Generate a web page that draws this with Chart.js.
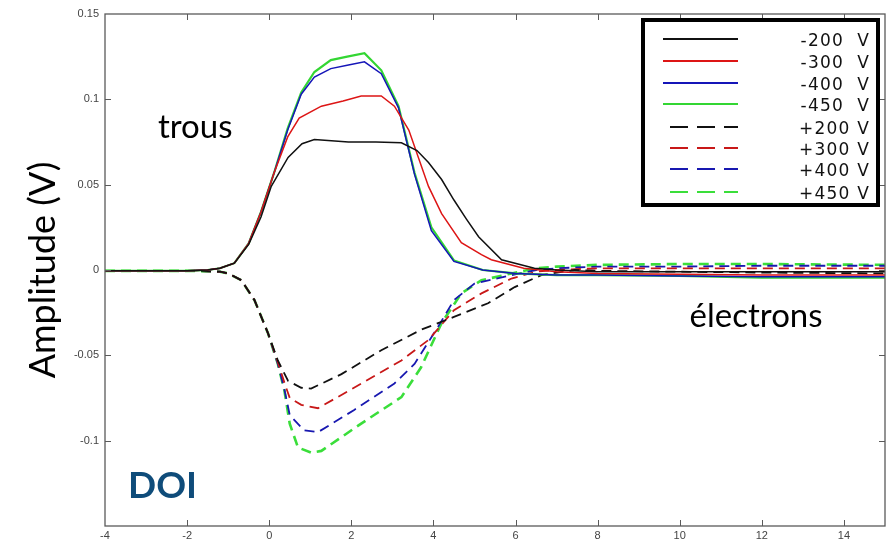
<!DOCTYPE html>
<html>
<head>
<meta charset="utf-8">
<script src="https://cdn.jsdelivr.net/npm/chart.js@4.4.1/dist/chart.umd.min.js"></script>
<style>
  html, body { margin: 0; padding: 0; background: #fff; }
  #wrap { width: 892px; height: 541px; }
</style>
</head>
<body>
<div id="wrap"><canvas id="amp"></canvas></div>
<script>
// --- data (x in µs-ish units, y in V) ---
const xTicks = [-4, -2, 0, 2, 4, 6, 8, 10, 12, 14];
const yTicks = [0.15, 0.1, 0.05, 0, -0.05, -0.1];

const seriesLabels = ['-200  V', '-300  V', '-400  V', '-450  V', '+200 V', '+300 V', '+400 V', '+450 V'];
const seriesColors = ['#111111', '#dd1515', '#1515b8', '#33d633', '#111111', '#c81818', '#1818b0', '#3ade3a'];

// solid curves (holes)
const xNeg200 = [-4, -2, -1.5, -1.2, -0.85, -0.5, -0.2, 0.05, 0.46, 0.8, 1.1, 1.93, 2.6, 3.22, 3.6, 3.88, 4.2, 4.5, 4.8, 5.1, 5.66, 6.46, 7, 8, 10, 12, 15];
const yNeg200 = [-0.0005, -0.0005, 0, 0.001, 0.004, 0.015, 0.031, 0.049, 0.066, 0.074, 0.0765, 0.075, 0.075, 0.0745, 0.070, 0.063, 0.053, 0.041, 0.030, 0.0195, 0.006, 0.001, 0, -0.001, -0.001, -0.001, -0.001];

const xNeg300 = [-4, -2, -1.5, -1.2, -0.85, -0.5, -0.2, 0.12, 0.45, 0.73, 1.27, 1.8, 2.24, 2.73, 3.05, 3.4, 3.88, 4.2, 4.68, 5.17, 5.41, 6.2, 7, 8, 10, 12, 15];
const yNeg300 = [-0.0005, -0.0005, 0, 0.001, 0.004, 0.0156, 0.034, 0.057, 0.078, 0.089, 0.096, 0.099, 0.102, 0.102, 0.096, 0.082, 0.049, 0.033, 0.016, 0.009, 0.006, 0.001, -0.001, -0.002, -0.0025, -0.003, -0.003];

const xNeg400 = [-4, -2, -1.5, -1.2, -0.85, -0.5, -0.2, 0.12, 0.45, 0.78, 1.1, 1.5, 1.9, 2.32, 2.73, 3.15, 3.54, 3.95, 4.5, 5.2, 6, 7, 8, 10, 12, 15];
const yNeg400 = [-0.0005, -0.0005, 0, 0.001, 0.004, 0.0156, 0.034, 0.057, 0.082, 0.103, 0.113, 0.118, 0.120, 0.122, 0.115, 0.095, 0.056, 0.023, 0.005, 0, -0.002, -0.003, -0.003, -0.0035, -0.004, -0.004];

const xNeg450 = [-4, -2, -1.5, -1.2, -0.85, -0.5, -0.2, 0.12, 0.45, 0.78, 1.1, 1.5, 1.9, 2.32, 2.73, 3.15, 3.54, 3.95, 4.5, 5.2, 6, 7, 8, 10, 12, 15];
const yNeg450 = [-0.0005, -0.0005, 0, 0.001, 0.004, 0.0156, 0.034, 0.057, 0.083, 0.104, 0.116, 0.123, 0.125, 0.127, 0.117, 0.096, 0.057, 0.025, 0.0056, 0, -0.002, -0.003, -0.003, -0.0035, -0.0045, -0.0045];

// dashed curves (electrons)
const xPos200 = [-4, -2, -1.2, -1.0, -0.68, -0.36, -0.03, 0.21, 0.46, 0.78, 1.02, 1.76, 2.73, 3.7, 4.5, 5.33, 5.98, 6.63, 7.44, 8, 10, 12, 15];
const yPos200 = [-0.0005, -0.0005, -0.001, -0.002, -0.006, -0.0176, -0.037, -0.053, -0.065, -0.069, -0.0695, -0.061, -0.047, -0.035, -0.0275, -0.0195, -0.010, -0.003, 0, -0.0005, -0.001, -0.0015, -0.002];

const xPos300 = [-4, -2, -1.2, -1.0, -0.68, -0.36, -0.03, 0.21, 0.37, 0.5, 0.78, 1.19, 2.24, 3.22, 3.88, 4.5, 5.17, 5.9, 6.5, 7, 8, 10, 12, 15];
const yPos300 = [-0.0005, -0.0005, -0.001, -0.002, -0.006, -0.0176, -0.037, -0.054, -0.066, -0.075, -0.079, -0.081, -0.0666, -0.053, -0.041, -0.0235, -0.0137, -0.005, -0.001, 0, 0.001, 0.001, 0.001, 0.001];

const xPos400 = [-4, -2, -1.2, -1.0, -0.68, -0.36, -0.03, 0.21, 0.37, 0.5, 0.85, 1.19, 2.07, 3.05, 3.54, 4.12, 4.5, 5.0, 5.9, 6.5, 7, 8, 10, 12, 15];
const yPos400 = [-0.0005, -0.0005, -0.001, -0.002, -0.006, -0.0176, -0.037, -0.055, -0.070, -0.085, -0.094, -0.095, -0.082, -0.0665, -0.055, -0.033, -0.0176, -0.008, -0.003, 0, 0.001, 0.002, 0.002, 0.0025, 0.0025];

const xPos450 = [-4, -2, -1.2, -1.0, -0.68, -0.36, -0.03, 0.21, 0.37, 0.5, 0.7, 1.02, 1.27, 2.24, 3.22, 3.7, 4.2, 4.68, 5.17, 5.9, 6.5, 7, 8, 10, 12, 15];
const yPos450 = [-0.0005, -0.0005, -0.001, -0.002, -0.006, -0.0176, -0.037, -0.055, -0.0706, -0.090, -0.104, -0.107, -0.106, -0.090, -0.0745, -0.057, -0.031, -0.0137, -0.006, -0.002, 0.001, 0.002, 0.003, 0.0035, 0.0035, 0.003];

const xsAll = [xNeg200, xNeg300, xNeg400, xNeg450, xPos200, xPos300, xPos400, xPos450];
const ysAll = [yNeg200, yNeg300, yNeg400, yNeg450, yPos200, yPos300, yPos400, yPos450];

// text notes placed in data units: [text, x, y(baseline)]
const notes = [
  ['trous', -2.71, 0.0776],
  ['électrons', 10.24, -0.0335]
];
const doiNote = ['DOI', -3.44, -0.1335];

const zip = (xs, ys) => xs.map((x, i) => ({ x, y: ys[i] }));

const datasets = seriesLabels.map((lab, i) => {
  const dashed = i >= 4;
  return {
    label: lab,
    data: zip(xsAll[i], ysAll[i]),
    borderColor: seriesColors[i],
    borderWidth: dashed ? (i === 7 ? 2.6 : 1.8) : (i === 3 ? 2.2 : 1.5),
    borderDash: dashed ? [10, 6] : [],
    pointRadius: 0,
    tension: 0,
    fill: false
  };
});

const fmtTick = (v) => {
  if (v < -0.149) return '';
  return String(Math.round(v * 100) / 100);
};

// frame + inward MATLAB-style ticks
const framePlugin = {
  id: 'frame',
  afterDraw(chart) {
    const { ctx, chartArea: a, scales: { x, y } } = chart;
    ctx.save();
    ctx.strokeStyle = '#5a5a5a';
    ctx.lineWidth = 1.3;
    ctx.strokeRect(a.left, a.top, a.right - a.left, a.bottom - a.top);
    ctx.lineWidth = 1;
    ctx.beginPath();
    xTicks.forEach(v => {
      const px = Math.round(x.getPixelForValue(v)) + 0.5;
      if (px <= a.left + 1 || px >= a.right - 1) return;
      ctx.moveTo(px, a.bottom); ctx.lineTo(px, a.bottom - 6);
      ctx.moveTo(px, a.top); ctx.lineTo(px, a.top + 6);
    });
    yTicks.forEach(v => {
      const py = Math.round(y.getPixelForValue(v)) + 0.5;
      if (py <= a.top + 1 || py >= a.bottom - 1) return;
      ctx.moveTo(a.left, py); ctx.lineTo(a.left + 6, py);
      ctx.moveTo(a.right, py); ctx.lineTo(a.right - 6, py);
    });
    ctx.stroke();
    ctx.restore();
  }
};

const notesPlugin = {
  id: 'notes',
  afterDraw(chart) {
    const { ctx, scales: { x, y } } = chart;
    ctx.save();
    ctx.textBaseline = 'alphabetic';
    ctx.textAlign = 'left';
    ctx.fillStyle = '#000';
    ctx.font = '33px Lato';
    notes.forEach(([t, nx, ny]) => ctx.fillText(t, x.getPixelForValue(nx), y.getPixelForValue(ny)));
    ctx.fillStyle = '#0f4c7a';
    ctx.font = 'bold 37px Lato';
    ctx.fillText(doiNote[0], x.getPixelForValue(doiNote[1]), y.getPixelForValue(doiNote[2]));
    ctx.restore();
  }
};

// boxed legend, top right like the original figure
const boxLegend = {
  id: 'boxLegend',
  afterDraw(chart) {
    const { ctx, chartArea: a } = chart;
    const bx = a.right - 242, by = a.top + 6, bw = 235, bh = 185;
    ctx.save();
    ctx.fillStyle = '#fff';
    ctx.fillRect(bx, by, bw, bh);
    ctx.strokeStyle = '#000';
    ctx.lineWidth = 4;
    ctx.strokeRect(bx, by, bw, bh);
    const rowY = [19, 41, 63, 84, 107, 128, 149, 172];
    chart.data.datasets.forEach((ds, i) => {
      const ly = by + rowY[i];
      ctx.beginPath();
      ctx.strokeStyle = ds.borderColor;
      ctx.lineWidth = 2;
      if (ds.borderDash.length) {
        ctx.setLineDash([18, 9]);
        ctx.moveTo(bx + 27, ly);
      } else {
        ctx.setLineDash([]);
        ctx.moveTo(bx + 20, ly);
      }
      ctx.lineTo(bx + 95, ly);
      ctx.stroke();
      ctx.setLineDash([]);
      ctx.fillStyle = '#111';
      ctx.font = '17px "DejaVu Sans"';
      ctx.letterSpacing = '1.2px';
      ctx.textAlign = 'right';
      ctx.textBaseline = 'middle';
      ctx.fillText(ds.label, bx + 227, ly + 3);
    });
    ctx.restore();
  }
};

new Chart(document.getElementById('amp'), {
  type: 'line',
  data: { datasets },
  plugins: [framePlugin, notesPlugin, boxLegend],
  options: {
    responsive: true,
    maintainAspectRatio: false,
    animation: false,
    layout: { padding: { top: 14, right: 7, left: 0, bottom: 0 } },
    plugins: { legend: { display: false }, tooltip: { enabled: false } },
    scales: {
      x: {
        type: 'linear',
        min: -4,
        max: 15,
        grid: { display: false, drawTicks: false },
        border: { display: false },
        afterFit: (s) => { s.height = 15; },
        ticks: {
          stepSize: 2,
          includeBounds: false,
          padding: 3,
          color: '#444',
          font: { family: '"Liberation Sans"', size: 11 },
          maxRotation: 0
        }
      },
      y: {
        type: 'linear',
        min: -0.15,
        max: 0.15,
        grid: { display: false, drawTicks: false },
        border: { display: false },
        afterFit: (s) => { s.width = 105; },
        title: {
          display: true,
          text: 'Amplitude (V)',
          color: '#000',
          font: { family: 'Lato', size: 36 },
          padding: { top: 22, bottom: 0 }
        },
        ticks: {
          stepSize: 0.05,
          padding: 6,
          color: '#444',
          font: { family: '"Liberation Sans"', size: 11 },
          callback: fmtTick
        }
      }
    }
  }
});
</script>
</body>
</html>
